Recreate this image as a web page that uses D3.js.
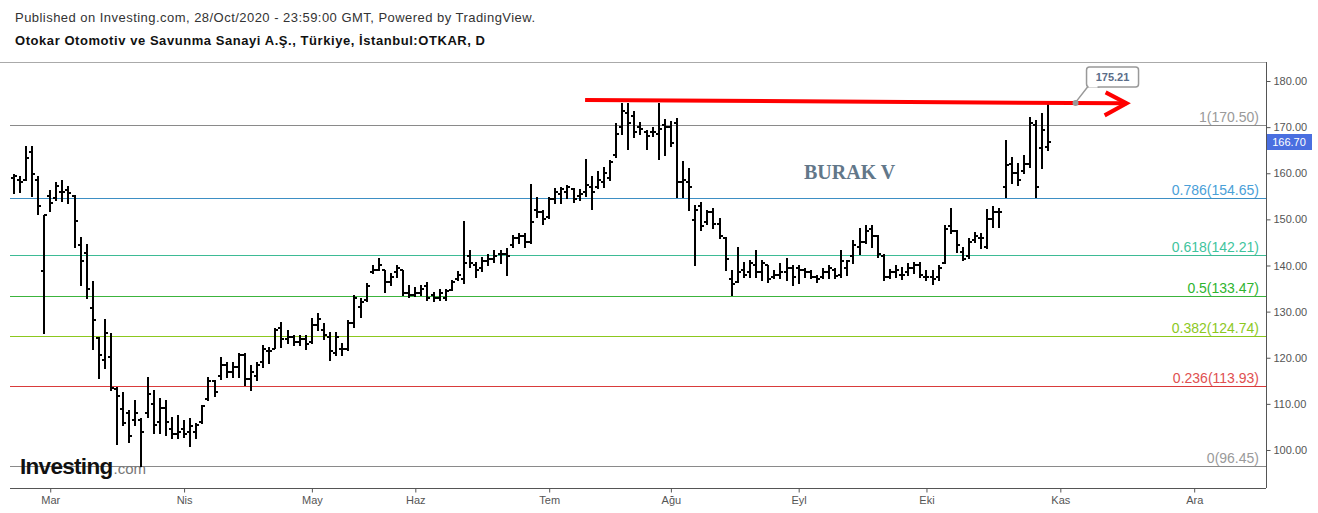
<!DOCTYPE html>
<html><head><meta charset="utf-8">
<script src="https://cdn.jsdelivr.net/npm/d3@7"></script>
<style>body{margin:0;background:#fff}svg{display:block}</style>
</head><body>
<svg id="c" width="1318" height="513"></svg>
<script>
// ---- data (daily OHLC, bar index 0 = 21 Feb 2020, last = 28 Oct 2020) ----
const open  = [159.0,158.5,158.5,164.7,158.5,138.9,155.0,154.6,156.0,156.4,155.1,144.4,142.8,130.8,124.2,119.5,120.1,113.2,108.8,108.0,
106.5,106.5,108.0,110.0,106.0,109.0,104.5,103.5,104.5,104.0,104.0,106.0,111.0,115.0,116.0,118.5,117.0,118.0,120.5,115.5,
116.0,119.0,121.5,122.0,126.4,124.0,124.5,123.5,124.0,123.5,127.0,126.0,124.5,121.0,122.0,122.0,127.5,131.0,132.5,138.5,
139.0,139.0,136.5,138.5,139.0,134.0,133.6,134.0,135.5,133.5,133.0,133.0,134.7,137.0,137.0,142.0,140.0,139.5,141.0,141.5,
142.5,142.5,144.5,146.0,146.5,145.0,152.0,151.5,150.5,154.5,155.5,156.0,156.5,155.0,156.0,157.0,157.0,158.0,159.0,164.0,
170.0,173.0,172.5,170.0,169.0,169.0,168.5,170.5,170.0,171.0,158.0,158.0,149.8,153.0,149.5,151.5,149.0,146.0,137.0,136.5,
139.0,138.5,140.0,138.5,140.0,137.5,138.0,138.5,139.5,139.5,139.0,138.5,137.5,137.5,138.5,139.0,138.0,139.5,142.0,144.0,
145.0,148.0,146.5,142.0,137.5,138.5,138.0,138.5,139.5,140.0,137.5,137.5,137.5,140.6,148.5,147.5,143.0,142.0,145.5,146.0,
144.0,150.0,151.5,157.1,162.0,160.0,160.5,162.0,170.5,165.4,165.7];
const high  = [159.8,159.5,165.9,165.9,159.5,151.0,156.4,158.2,158.5,157.2,155.3,146.1,144.7,136.6,124.5,128.5,125.3,113.7,112.6,108.7,
110.8,106.9,115.9,113.0,111.2,110.8,107.2,107.6,106.5,106.9,105.8,109.8,115.8,115.2,120.2,119.1,119.1,121.0,121.0,118.4,
119.1,122.8,122.4,126.4,127.8,126.0,124.9,124.9,124.9,128.6,129.8,127.5,125.6,125.6,123.1,128.2,133.6,132.9,136.1,140.1,
141.6,139.0,138.3,140.2,139.0,135.8,135.4,135.8,136.5,134.3,134.8,134.8,136.9,138.9,149.7,143.4,140.8,141.9,142.6,143.4,
143.4,143.7,146.6,147.1,147.0,157.6,154.9,152.0,154.9,156.7,157.1,157.5,156.7,156.5,163.0,159.3,160.4,161.3,162.9,170.8,
175.3,175.3,173.6,171.2,169.4,170.0,175.3,171.7,171.4,171.9,162.6,161.1,153.1,153.8,152.0,152.4,150.2,146.2,139.0,144.1,
140.8,141.2,143.4,141.2,140.1,139.0,140.5,141.6,140.1,140.1,139.4,139.0,137.9,139.4,140.1,139.4,143.4,141.2,145.5,148.1,
148.8,148.8,146.6,142.6,139.2,140.1,139.6,140.6,140.8,140.8,139.0,139.0,140.1,148.8,152.4,147.7,144.1,145.9,147.3,147.0,
152.2,152.8,152.4,167.3,163.6,162.2,164.0,172.3,171.5,173.0,175.21];
const low   = [155.7,156.0,158.5,155.1,151.1,125.3,151.9,154.1,153.9,153.5,144.1,135.8,133.0,122.0,115.6,117.7,113.0,101.4,105.4,101.8,
105.4,96.45,107.2,103.6,103.7,103.3,102.5,102.5,102.9,100.9,102.5,105.8,110.8,111.6,115.5,115.9,115.9,115.9,114.1,113.0,
115.2,118.1,118.8,122.1,122.4,123.1,122.8,122.8,121.8,123.3,126.0,124.0,119.5,120.6,120.6,121.7,126.7,128.9,132.4,138.3,
139.0,134.3,135.8,137.6,133.6,133.2,133.4,133.6,132.5,132.2,132.5,132.5,134.7,136.9,136.1,139.7,137.6,138.7,140.1,140.8,
140.5,137.9,144.1,144.8,144.1,144.8,150.6,149.1,150.2,153.5,153.5,154.6,153.8,154.2,155.1,152.2,156.7,157.1,158.5,163.6,
168.6,165.2,167.9,168.6,165.2,168.1,163.0,164.0,165.8,154.8,154.8,152.0,140.1,147.8,149.1,148.1,145.9,139.0,133.6,136.5,
137.6,137.6,137.6,136.9,136.5,137.2,137.2,136.9,135.8,136.1,137.6,137.2,136.5,137.2,137.2,137.2,137.6,137.9,140.5,142.6,
144.8,144.1,141.9,136.9,137.2,137.6,137.0,137.9,138.3,137.6,136.9,136.0,136.9,140.5,147.0,143.0,141.2,141.6,145.2,143.7,
143.7,148.4,148.4,154.9,157.8,157.5,160.0,161.4,154.9,161.1,165.0];
const close = [159.4,158.0,163.4,159.8,152.9,150.9,153.5,157.3,156.0,155.7,149.7,141.0,135.0,128.2,120.5,125.3,113.5,111.6,105.9,103.0,
108.0,104.0,112.2,105.5,109.0,106.0,103.5,104.0,103.5,105.3,105.5,109.5,115.0,112.5,118.5,117.0,118.0,120.5,115.5,117.0,
118.5,122.0,121.5,126.0,124.0,124.5,123.5,124.0,123.0,127.0,128.5,125.0,121.5,124.5,122.0,127.5,133.0,132.0,135.5,139.0,
140.0,136.5,137.5,139.5,134.0,133.5,134.0,135.0,133.0,133.0,134.0,134.5,136.5,138.0,140.5,140.5,139.0,141.0,141.5,142.0,
142.5,142.0,146.0,146.5,145.0,149.5,151.5,150.0,154.5,156.0,156.5,157.0,154.5,155.5,157.5,156.0,158.5,160.0,162.5,168.5,
173.5,171.0,169.0,169.5,168.0,169.0,169.5,170.0,166.5,158.0,158.5,157.0,152.0,148.5,151.5,149.0,146.5,141.5,136.0,138.5,
138.0,140.5,138.5,140.5,137.0,138.0,138.5,139.5,137.5,139.0,138.5,137.5,137.0,138.5,139.5,137.8,141.0,141.0,144.5,145.0,
147.5,146.5,142.5,137.5,138.5,139.0,138.0,139.5,140.0,138.0,137.5,137.0,139.5,148.0,147.5,144.5,141.5,145.0,146.5,146.0,
150.0,151.5,151.5,161.8,160.0,158.5,162.0,171.0,157.1,169.4,166.70];

const monthLabels   = ["Mar","Nis","May","Haz","Tem","Ağu","Eyl","Eki","Kas","Ara"];
const monthBarIndex = [6,28,49,66,88,108,129,150,172,194];
const priceTicks    = [100,110,120,130,140,150,160,170,180];
const fibRatios     = ["1","0.786","0.618","0.5","0.382","0.236","0"];
const fibPrices     = [170.50,154.65,142.21,133.47,124.74,113.93,96.45];
const lastPrice     = 166.70;
const trendStart    = [93.9, 175.9];   // [bar index, price]
const trendEnd      = [182.9, 175.15];
const calloutPoint  = [174.5, 175.21];

// ---- styles ----
const fibLineColors = ["#8a8a8a","#3d8fc4","#3dbb95","#3cb43c","#8cc81e","#d93b3b","#8a8a8a"];
const fibTextColors = ["#9a9a9a","#4aa0d8","#3fc49d","#2fb42f","#8cc81e","#e05050","#9a9a9a"];

const svg = d3.select("#c");
const L = 10, R = 1266, T = 62, B = 488;
const x = d3.scaleLinear().domain([-0.61, 205.8]).range([L, R]);
const y = d3.scaleLinear().domain([91.76, 184.12]).range([B, T]);

// header
svg.append("text").attr("x",15).attr("y",22)
  .attr("font-family","Liberation Sans, Arial, sans-serif").attr("font-size",13).attr("fill","#333")
  .attr("textLength",520).attr("lengthAdjust","spacing")
  .text("Published on Investing.com, 28/Oct/2020 - 23:59:00 GMT, Powered by TradingView.");
svg.append("text").attr("x",15).attr("y",45)
  .attr("font-family","Liberation Sans, Arial, sans-serif").attr("font-size",13).attr("font-weight","bold").attr("fill","#111")
  .attr("textLength",470).attr("lengthAdjust","spacing")
  .text("Otokar Otomotiv ve Savunma Sanayi A.Ş., Türkiye, İstanbul:OTKAR, D");

// frame
svg.append("line").attr("x1",0).attr("x2",R).attr("y1",T+0.5).attr("y2",T+0.5).attr("stroke","#aaa");
svg.append("line").attr("x1",L).attr("x2",R).attr("y1",B+0.5).attr("y2",B+0.5).attr("stroke","#555");
svg.append("line").attr("x1",R+0.5).attr("x2",R+0.5).attr("y1",T).attr("y2",B).attr("stroke","#555");

// fib lines
const fib = svg.append("g");
fibPrices.forEach((p,k)=>{
  const yy = Math.round(y(p))+0.5;
  fib.append("line").attr("x1",L).attr("x2",R).attr("y1",yy).attr("y2",yy)
    .attr("stroke",fibLineColors[k]).attr("stroke-width",1);
  fib.append("text").attr("x",1259).attr("y",yy-3.5).attr("text-anchor","end")
    .attr("font-family","Liberation Sans, Arial, sans-serif").attr("font-size",14)
    .attr("fill",fibTextColors[k]).text(fibRatios[k]+"("+p.toFixed(2)+")");
});

// y axis
const yAxis = svg.append("g").attr("transform",`translate(${R+0.5},0)`)
  .call(d3.axisRight(y).tickValues(priceTicks).tickSize(4).tickPadding(3).tickFormat(d3.format(".2f")));
yAxis.select(".domain").remove();
yAxis.selectAll("line").attr("stroke","#555");
yAxis.selectAll("text").attr("font-family","Liberation Sans, Arial, sans-serif").attr("font-size",11).attr("fill","#555");

// x axis
const xAxis = svg.append("g").attr("transform",`translate(0,${B+0.5})`)
  .call(d3.axisBottom(x).tickValues(monthBarIndex).tickSize(4).tickPadding(4)
    .tickFormat((d,i)=>monthLabels[i]));
xAxis.select(".domain").remove();
xAxis.selectAll("line").attr("stroke","#555");
xAxis.selectAll("text").attr("font-family","Liberation Sans Narrow, Liberation Sans, Arial, sans-serif").attr("font-size",11).attr("fill","#555");

// investing logo
const logo = svg.append("text").attr("x",20).attr("y",474)
  .attr("font-family","Liberation Sans Narrow, Liberation Sans, Arial, sans-serif");
logo.append("tspan").attr("font-size",22.5).attr("font-weight","bold").attr("fill","#111").attr("letter-spacing",-0.7).text("Investing");
logo.append("tspan").attr("font-size",15).attr("fill","#777").attr("dx",1).text(".com");

// OHLC bars
const bars = svg.append("g").attr("stroke","#000").attr("stroke-width",2);
open.forEach((o,i)=>{
  const xi = Math.round(x(i));
  bars.append("line").attr("x1",xi).attr("x2",xi).attr("y1",Math.round(y(high[i]))).attr("y2",Math.round(y(low[i]))+1);
  const yo = Math.round(y(o)), yc = Math.round(y(close[i]));
  bars.append("line").attr("x1",xi-3).attr("x2",xi).attr("y1",yo).attr("y2",yo);
  bars.append("line").attr("x1",xi).attr("x2",xi+3).attr("y1",yc).attr("y2",yc);
});

// trend line with arrow
const tx1 = x(trendStart[0]), ty1 = y(trendStart[1]), tx2 = x(trendEnd[0]), ty2 = y(trendEnd[1]);
svg.append("line").attr("x1",tx1).attr("y1",ty1).attr("x2",tx2).attr("y2",ty2)
  .attr("stroke","#ff0000").attr("stroke-width",4);
svg.append("path").attr("d",`M${tx2-21},${ty2-11} L${tx2},${ty2} L${tx2-22},${ty2+12}`)
  .attr("fill","none").attr("stroke","#ff0000").attr("stroke-width",4).attr("stroke-linejoin","miter");

// callout
const cx = x(calloutPoint[0]), cy = y(calloutPoint[1]);
const call = svg.append("g");
call.append("path").attr("d",`M${cx+1},${cy-2} L${cx+12},${cy-16} L${cx+24},${cy-16}`)
  .attr("fill","#fff").attr("stroke","#999").attr("stroke-width",1.5);
call.append("rect").attr("x",cx+11).attr("y",cy-36).attr("width",52).attr("height",20).attr("rx",3)
  .attr("fill","#fff").attr("stroke","#999").attr("stroke-width",1.5);
call.append("path").attr("d",`M${cx+13},${cy-16.5} L${cx+22},${cy-16.5}`).attr("stroke","#fff").attr("stroke-width",2);
call.append("circle").attr("cx",cx).attr("cy",cy).attr("r",3).attr("fill","#9a9a9a");
call.append("text").attr("x",cx+37).attr("y",cy-22).attr("text-anchor","middle")
  .attr("font-family","Liberation Sans, Arial, sans-serif").attr("font-size",11).attr("font-weight","bold")
  .attr("fill","#5a6d88").text(calloutPoint[1].toFixed(2));

// annotation text
svg.append("text").attr("x",804).attr("y",179)
  .attr("font-family","Liberation Serif, Times New Roman, serif").attr("font-size",20).attr("font-weight","bold")
  .attr("fill","#627789").text("BURAK V");

// last price label
const lp = svg.append("g");
lp.append("rect").attr("x",R+1).attr("y",Math.round(y(lastPrice))-8).attr("width",45).attr("height",16).attr("fill","#4a6fe0");
lp.append("text").attr("x",R+23).attr("y",Math.round(y(lastPrice))+4).attr("text-anchor","middle")
  .attr("font-family","Liberation Sans, Arial, sans-serif").attr("font-size",11).attr("fill","#fff").text(lastPrice.toFixed(2));
</script>
</body></html>
